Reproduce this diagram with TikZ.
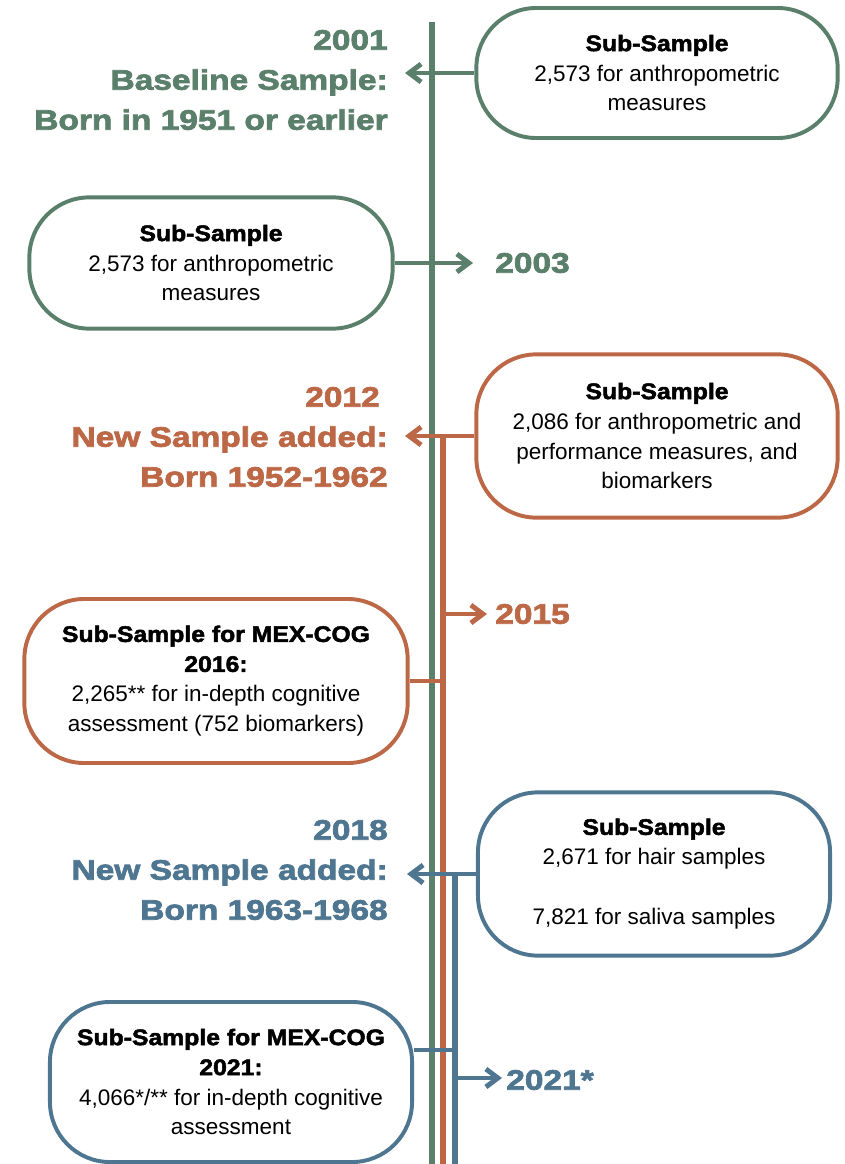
\documentclass[tikz,border=0pt]{standalone}
\usepackage{fontspec}
\setmainfont{Liberation Sans}
\newfontfamily\heavyfont[FakeBold=2.6,FakeStretch=1.19]{Liberation Sans Bold}
\newfontfamily\boxheavyfont[FakeBold=2.2,FakeStretch=1.1]{Liberation Sans Bold}
\usetikzlibrary{arrows.meta}
\definecolor{sagegreen}{HTML}{5A7F6B}
\definecolor{rust}{HTML}{BC6847}
\definecolor{slateblue}{HTML}{4F7690}

\begin{document}
\begin{tikzpicture}[x=0.025cm, y=-0.025cm,
	every node/.style={font=\fontsize{16}{21.3}\selectfont, align=center},
	subbox/.style={draw, line width=2.8pt, rounded corners=1.5cm, inner sep=0pt},
	yearlabel/.style={font=\fontsize{20}{28.45}\selectfont\heavyfont, inner sep=0pt},
	track/.style={line width=4.6pt},
	link/.style={line width=3.5pt},
	tick/.style={link, -{Straight Barb[length=0.3cm, width=0.45cm]}}]
	\useasboundingbox (0, 0) rectangle (844, 1164);

	% timeline tracks
	\coordinate (gtop) at (432, 22);
	\coordinate (gend) at (432, 1164);
	\coordinate (otop) at (443, 436);
	\coordinate (oend) at (443, 1164);
	\coordinate (btop) at (455, 874);
	\coordinate (bend) at (455, 1164);
	\draw[track, sagegreen] (gtop) -- (gend);
	\draw[track, rust] (otop) -- (oend);
	\draw[track, slateblue] (btop) -- (bend);

	% green: 2001 and 2003
	\node[subbox, sagegreen, text=black, minimum width=9.03cm, minimum height=3.25cm] at (657, 73) (sub2001)
		{{\boxheavyfont Sub-Sample}\\2,573 for anthropometric\\measures};
	\node[yearlabel, sagegreen, anchor=east, align=right] at (388, 80) (y2001)
		{2001\\Baseline Sample:\\Born in 1951 or earlier};
	\coordinate (t2001) at (405, 73);
	\draw[tick, sagegreen] (sub2001) -- (t2001);

	\node[subbox, sagegreen, text=black, minimum width=9.08cm, minimum height=3.28cm] at (211, 263) (sub2003)
		{{\boxheavyfont Sub-Sample}\\2,573 for anthropometric\\measures};
	\node[yearlabel, sagegreen, anchor=west] at (495, 263) (y2003) {2003};
	\coordinate (t2003) at (473, 263);
	\draw[tick, sagegreen] (sub2003) -- (t2003);

	% orange: 2012 and 2015
	\node[subbox, rust, text=black, minimum width=9.03cm, minimum height=4.08cm] at (657, 436) (sub2012)
		{{\boxheavyfont Sub-Sample}\\2,086 for anthropometric and\\performance measures, and\\biomarkers};
	\node[yearlabel, rust, anchor=east, align=right] at (388, 437) (y2012)
		{2012\hspace*{0.2cm}\\New Sample added:\\Born 1952-1962};
	\coordinate (t2012) at (405, 436);
	\draw[tick, rust] (sub2012) -- (t2012);

	\coordinate (o2015) at (443, 614);
	\node[yearlabel, rust, anchor=west] at (495, 614) (y2015) {2015};
	\coordinate (t2015) at (487, 614);
	\draw[tick, rust] (o2015) -- (t2015);

	\node[subbox, rust, text=black, minimum width=9.58cm, minimum height=4.1cm] at (216, 681) (sub2016)
		{{\boxheavyfont Sub-Sample for MEX-COG}\\{\boxheavyfont 2016:}\\2,265** for in-depth cognitive\\assessment (752 biomarkers)};
	\draw[link, rust] (sub2016.east) -- (sub2016.east -| otop);

	% blue: 2018 and 2021
	\node[subbox, slateblue, text=black, minimum width=8.8cm, minimum height=4.08cm] at (654, 874) (sub2018)
		{{\boxheavyfont Sub-Sample}\\2,671 for hair samples\\[0.75cm]7,821 for saliva samples};
	\node[yearlabel, slateblue, anchor=east, align=right] at (388, 870) (y2018)
		{2018\\New Sample added:\\Born 1963-1968};
	\coordinate (t2018) at (407, 874);
	\draw[tick, slateblue] (sub2018) -- (t2018);

	\node[subbox, slateblue, text=black, minimum width=9.05cm, minimum height=4cm] at (231, 1082) (sub2021)
		{{\boxheavyfont Sub-Sample for MEX-COG}\\{\boxheavyfont 2021:}\\4,066*/** for in-depth cognitive\\assessment};
	\coordinate (j2021) at (455, 1050);
	\draw[link, slateblue] (j2021 -| sub2021.east) -- (j2021);

	\coordinate (b2021) at (455, 1078);
	\node[yearlabel, slateblue, anchor=west] at (506, 1080) (y2021) {2021*};
	\coordinate (t2021) at (502, 1078);
	\draw[tick, slateblue] (b2021) -- (t2021);
\end{tikzpicture}
\end{document}
